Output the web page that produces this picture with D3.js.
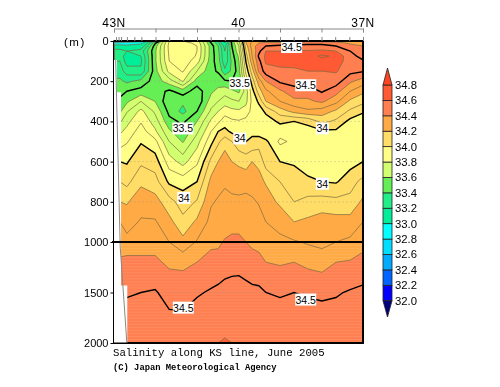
<!DOCTYPE html>
<html><head><meta charset="utf-8">
<style>html,body{margin:0;padding:0;background:#fff}svg{display:block;filter:blur(0.3px)}</style>
<script src="https://cdnjs.cloudflare.com/ajax/libs/d3/7.8.5/d3.min.js"></script>
</head><body><svg id="c" width="500" height="387"></svg>
<script>
const latitudes=[43,42.86,42.69,42.35,42.01,41.67,41.34,41,40.66,40.49,40.33,40.16,39.99,39.82,39.67,39.51,39.34,39,38.66,38.33,37.99,37.65,37.31,37];
const depths=[0,10,25,50,75,100,150,200,250,300,350,400,450,500,600,700,800,900,1000,1100,1200,1300,1500,1750,2000];
const salinityByStation=[
[32.4,32.8,33.1,33.25,33.25,33.3,33.35,33.42,33.47,33.52,33.58,33.68,33.78,33.85,34,34.1,34.2,34.3,34.38,34.39,34.41,34.43,34.49,34.54,34.58],
[32.5,32.85,33.1,33.25,33.25,33.3,33.35,33.42,33.47,33.52,33.58,33.68,33.78,33.85,34,34.1,34.2,34.3,34.38,34.39,34.41,34.43,34.49,34.54,34.58],
[32.6,32.9,33.05,33.2,33.15,33.15,33.25,33.38,33.5,33.58,33.69,33.77,33.83,33.89,33.99,34.07,34.19,34.26,34.33,34.39,34.42,34.44,34.49,34.54,34.57],
[32.7,32.95,33.1,33.25,33.2,33.18,33.22,33.43,33.54,33.7,33.83,33.89,33.95,33.99,34.08,34.18,34.26,34.31,34.36,34.39,34.42,34.44,34.5,34.55,34.58],
[33.3,33.48,33.55,33.58,33.58,33.58,33.56,33.55,33.55,33.6,33.68,33.75,33.82,33.93,34.05,34.14,34.24,34.31,34.36,34.39,34.42,34.44,34.51,34.56,34.59],
[33.9,33.92,33.93,33.92,33.91,33.9,33.83,33.65,33.48,33.42,33.47,33.53,33.62,33.7,33.85,33.98,34.14,34.23,34.3,34.34,34.38,34.41,34.46,34.52,34.56],
[33.9,33.93,33.95,33.97,33.97,33.96,33.91,33.81,33.55,33.42,33.37,33.48,33.52,33.59,33.76,33.96,34.05,34.13,34.23,34.3,34.35,34.41,34.45,34.52,34.56],
[33.85,33.88,33.9,33.9,33.89,33.85,33.7,33.55,33.45,33.42,33.5,33.6,33.68,33.76,33.88,34,34.11,34.22,34.31,34.36,34.4,34.42,34.49,34.54,34.58],
[33.45,33.5,33.55,33.55,33.55,33.54,33.52,33.53,33.58,33.65,33.72,33.82,33.9,33.97,34.13,34.23,34.29,34.33,34.37,34.41,34.44,34.46,34.51,34.56,34.59],
[33.3,33.35,33.4,33.42,33.44,33.45,33.49,33.55,33.63,33.7,33.8,33.88,34,34.08,34.2,34.27,34.31,34.34,34.38,34.41,34.45,34.47,34.52,34.57,34.6],
[32.9,33,33.15,33.2,33.2,33.22,33.33,33.52,33.66,33.75,33.86,33.95,34.03,34.16,34.25,34.29,34.32,34.35,34.41,34.45,34.47,34.48,34.54,34.58,34.605],
[33.55,33.52,33.5,33.47,33.45,33.42,33.42,33.5,33.62,33.72,33.83,33.92,33.98,34.1,34.2,34.27,34.32,34.37,34.42,34.46,34.48,34.49,34.54,34.58,34.6],
[33.8,33.75,33.7,33.68,33.62,33.6,33.56,33.51,33.58,33.7,33.82,33.91,33.97,34.03,34.18,34.26,34.32,34.37,34.42,34.46,34.48,34.49,34.55,34.58,34.58],
[34.2,34.2,34.15,34.1,34.05,34.01,33.93,33.83,33.75,33.77,33.85,33.93,33.97,34,34.16,34.26,34.33,34.37,34.4,34.43,34.46,34.48,34.53,34.57,34.57],
[34.3,34.33,34.35,34.32,34.3,34.27,34.15,34.05,33.96,33.93,33.93,33.94,33.98,34.02,34.2,34.24,34.32,34.35,34.38,34.41,34.45,34.47,34.52,34.56,34.56],
[34.35,34.4,34.45,34.47,34.52,34.47,34.42,34.25,34.15,34.02,33.95,33.93,33.95,34.05,34.18,34.23,34.29,34.35,34.38,34.4,34.43,34.46,34.52,34.55,34.56],
[34.35,34.42,34.5,34.6,34.62,34.62,34.55,34.4,34.28,34.2,34.02,33.95,33.92,34.02,34.05,34.19,34.25,34.3,34.36,34.38,34.4,34.43,34.5,34.54,34.56],
[34.35,34.42,34.53,34.6,34.64,34.63,34.58,34.52,34.38,34.3,34.15,34.02,33.94,33.88,34,34.1,34.18,34.27,34.32,34.36,34.39,34.42,34.49,34.54,34.56],
[34.35,34.45,34.53,34.61,34.65,34.64,34.58,34.53,34.47,34.37,34.23,34,33.96,33.92,33.98,34.08,34.1,34.2,34.31,34.36,34.4,34.43,34.5,34.54,34.56],
[34.35,34.47,34.53,34.61,34.65,34.68,34.6,34.54,34.45,34.38,34.28,34.02,33.97,33.93,33.95,34.02,34.13,34.22,34.29,34.33,34.38,34.41,34.49,34.54,34.56],
[34.35,34.47,34.53,34.62,34.72,34.66,34.6,34.55,34.51,34.42,34.25,34.13,33.98,33.93,33.92,34,34.14,34.25,34.28,34.31,34.36,34.4,34.48,34.54,34.56],
[34.35,34.45,34.5,34.6,34.68,34.65,34.61,34.55,34.44,34.33,34.18,34.08,33.98,33.92,33.93,33.99,34.13,34.24,34.3,34.35,34.4,34.42,34.49,34.54,34.56],
[34.3,34.38,34.44,34.5,34.53,34.55,34.53,34.42,34.3,34.18,34.08,33.97,33.92,33.92,33.96,34.06,34.13,34.24,34.32,34.36,34.41,34.44,34.51,34.54,34.56],
[34.3,34.35,34.4,34.44,34.47,34.51,34.51,34.35,34.22,34.13,34.01,33.95,33.92,33.93,34,34.13,34.22,34.3,34.38,34.4,34.42,34.45,34.53,34.56,34.58]
];
const fillLevels=[32,32.2,32.4,32.6,32.8,33,33.2,33.4,33.6,33.8,34,34.2,34.4,34.6,34.8];
const fillColors=["#00007f","#0000ff","#0066ff","#00aaff","#00ddff","#00ffff","#00ee99","#22ee88","#66ee55","#d2ff70","#ffff88","#ffdd66","#ffaa44","#ff7f50","#ff5a33","#ff4422"];
const thinLevels=[32.6,32.8,33,33.2,33.3,33.4,33.6,33.7,33.8,33.9,34.1,34.2,34.3,34.4,34.6,34.7];
const thickLevels=[33.5,34,34.5];
const majorLats=[43,42,41,40,39,38,37];
const minorLats=[42.95,42.89,42.83,42.69,42.51,42.34,42,41.67,41.33,41,40.67,40.33,40,39.67,39.33,39,38.67,38.33,38,37.67,37.33,37];
const latText=[[43,"43N"],[40,"40"],[37,"37N"]];
const depthTicks=[0,200,400,600,800,1000,1500,2000];
const gridDepths=[200,400,600,800,1500];
const contourLabels=[[38.72,30,"34.5"],[38.38,220,"34.5"],[39.97,210,"33.5"],[41.34,435,"33.5"],[39.97,485,"34"],[37.98,435,"34"],[37.98,710,"34"],[41.32,780,"34"],[41.33,1650,"34.5"],[38.38,1570,"34.5"]];
const maskLats=[43,42.93,42.93,42.83,42.83,42.68,42.68,43];
const maskDepths=[95,95,255,255,1430,1430,2000,2000];
const title="Salinity along KS line, June 2005";
const credit="(C) Japan Meteorological Agency";

const svg=d3.select("#c");
const x=d3.scaleLinear().domain([43,37]).range([114,363]);
const y=d3.scaleLinear().domain([0,1000,2000]).range([41,242,343]);
const nC=latitudes.length,nR=depths.length;
const colIdx=d3.scaleLinear().domain(d3.range(nC)).range(latitudes).clamp(true);
const rowIdx=d3.scaleLinear().domain(d3.range(nR)).range(depths).clamp(true);
const values=[];
for(let r=0;r<nR;r++)for(let c=0;c<nC;c++)values.push(salinityByStation[c][r]);
const gen=d3.contours().size([nC,nR]).smooth(true);
const proj=d3.geoTransform({point(px,py){this.stream.point(x(colIdx(px-0.5)),y(rowIdx(py-0.5)));}});
const path=d3.geoPath(proj);
const plot=svg.append("g");
plot.append("rect").attr("x",x(43)).attr("y",y(0)).attr("width",x(37)-x(43)).attr("height",y(2000)-y(0)).attr("fill",fillColors[0]);
plot.selectAll("path.f").data(gen.thresholds(fillLevels)(values)).join("path").attr("class","f")
  .attr("d",path).attr("fill",(d,i)=>fillColors[i+1]);
plot.selectAll("line.s").data(d3.range(1005,2000,30)).join("line").attr("class","s")
  .attr("x1",x(43)).attr("x2",x(37)).attr("y1",d=>y(d)).attr("y2",d=>y(d)).attr("stroke","#fff").attr("stroke-opacity",.1);
plot.selectAll("path.t").data(gen.thresholds(thinLevels)(values)).join("path").attr("class","t")
  .attr("d",path).attr("fill","none").attr("stroke","#7a6a40").attr("stroke-width",.7);
plot.selectAll("line.g").data(gridDepths).join("line").attr("class","g")
  .attr("x1",x(43)).attr("x2",x(37)).attr("y1",d=>y(d)).attr("y2",d=>y(d))
  .attr("stroke","#999").attr("stroke-width",.7).attr("stroke-dasharray","2 2").attr("stroke-opacity",.5);
plot.selectAll("path.k").data(gen.thresholds(thickLevels)(values)).join("path").attr("class","k")
  .attr("d",path).attr("fill","none").attr("stroke","#000").attr("stroke-width",1.4);
plot.append("path").attr("d",d3.line().x(d=>x(d[0])).y(d=>y(d[1]))(maskLats.map((l,i)=>[l,maskDepths[i]]))+"Z").attr("fill","#fff");
plot.append("path").attr("d",d3.line().x(d=>x(d[0])).y(d=>y(d[1]))([[42.96,95],[42.85,1050],[42.69,2000]])).attr("fill","none").attr("stroke","#888").attr("stroke-width",1);

const lab=svg.append("g").attr("font-family","Liberation Sans").attr("font-size",10.5).attr("text-anchor","middle");
contourLabels.forEach(([la,de,t])=>{
  const w=t.length==2?13:21;
  lab.append("rect").attr("x",x(la)-w/2).attr("y",y(de)-6).attr("width",w).attr("height",12).attr("fill","#fff");
  lab.append("text").attr("x",x(la)).attr("y",y(de)+4).text(t);
});

svg.append("rect").attr("x",113.5).attr("y",41).attr("width",249.5).attr("height",302).attr("fill","none").attr("stroke","#000").attr("stroke-width",1);
svg.append("line").attr("x1",114).attr("x2",363).attr("y1",41).attr("y2",41).attr("stroke","#000").attr("stroke-width",2);
svg.append("line").attr("x1",112).attr("x2",363).attr("y1",y(1000)).attr("y2",y(1000)).attr("stroke","#000").attr("stroke-width",1.8);
const left=svg.append("g").attr("transform","translate(113.5,0)").call(d3.axisLeft(y).tickValues(depthTicks).tickSize(3).tickPadding(2).tickFormat(d3.format("d")));
left.select(".domain").remove();
left.selectAll("text").attr("font-family","Liberation Sans").attr("font-size",11).attr("fill","#000");
const top1=svg.append("g").attr("transform","translate(0,28.5)").call(d3.axisBottom(x).tickValues(majorLats).tickSize(4).tickFormat(""));
top1.selectAll("path,line").attr("stroke","#888");
const top2=svg.append("g").attr("transform","translate(0,37)").call(d3.axisBottom(x).tickValues(minorLats).tickSize(4).tickFormat(""));
top2.select(".domain").remove();top2.selectAll("line").attr("stroke","#888");
svg.append("g").selectAll("text").data(latText).join("text").attr("x",d=>x(d[0])).attr("y",27).attr("text-anchor","middle")
  .attr("font-family","Liberation Sans").attr("font-size",12).attr("letter-spacing",.5).text(d=>d[1]);
svg.append("text").attr("x",64).attr("y",46).attr("font-family","Liberation Sans").attr("font-size",11.5).attr("letter-spacing",1.5).text("(m)");
svg.append("text").attr("x",113).attr("y",356).attr("font-family","Liberation Mono").attr("font-size",10.7).text(title);
svg.append("text").attr("x",113).attr("y",370).attr("font-family","Liberation Mono").attr("font-weight","bold").attr("font-size",8.8).text(credit);

const bar=d3.scaleLinear().domain([32,34.8]).range([300.7,85]);
const cb=svg.append("g");
const bx=383,bw=9;
cb.selectAll("rect").data(d3.range(fillLevels.length-1)).join("rect")
  .attr("x",bx).attr("width",bw).attr("y",i=>bar(fillLevels[i+1])).attr("height",i=>bar(fillLevels[i])-bar(fillLevels[i+1]))
  .attr("fill",i=>fillColors[i+1]).attr("stroke","#222").attr("stroke-width",.8);
cb.append("path").attr("d",`M${bx},${bar(34.8)}L${bx+bw/2},68L${bx+bw},${bar(34.8)}Z`).attr("fill",fillColors[15]).attr("stroke","#222").attr("stroke-width",.8);
cb.append("path").attr("d",`M${bx},${bar(32)}L${bx+bw/2},317L${bx+bw},${bar(32)}Z`).attr("fill",fillColors[0]).attr("stroke","#222").attr("stroke-width",.8);
cb.selectAll("text").data(fillLevels).join("text").attr("x",395).attr("y",d=>bar(d)+4).attr("font-family","Liberation Sans").attr("font-size",11.3).text(d=>d.toFixed(1));
</script></body></html>
